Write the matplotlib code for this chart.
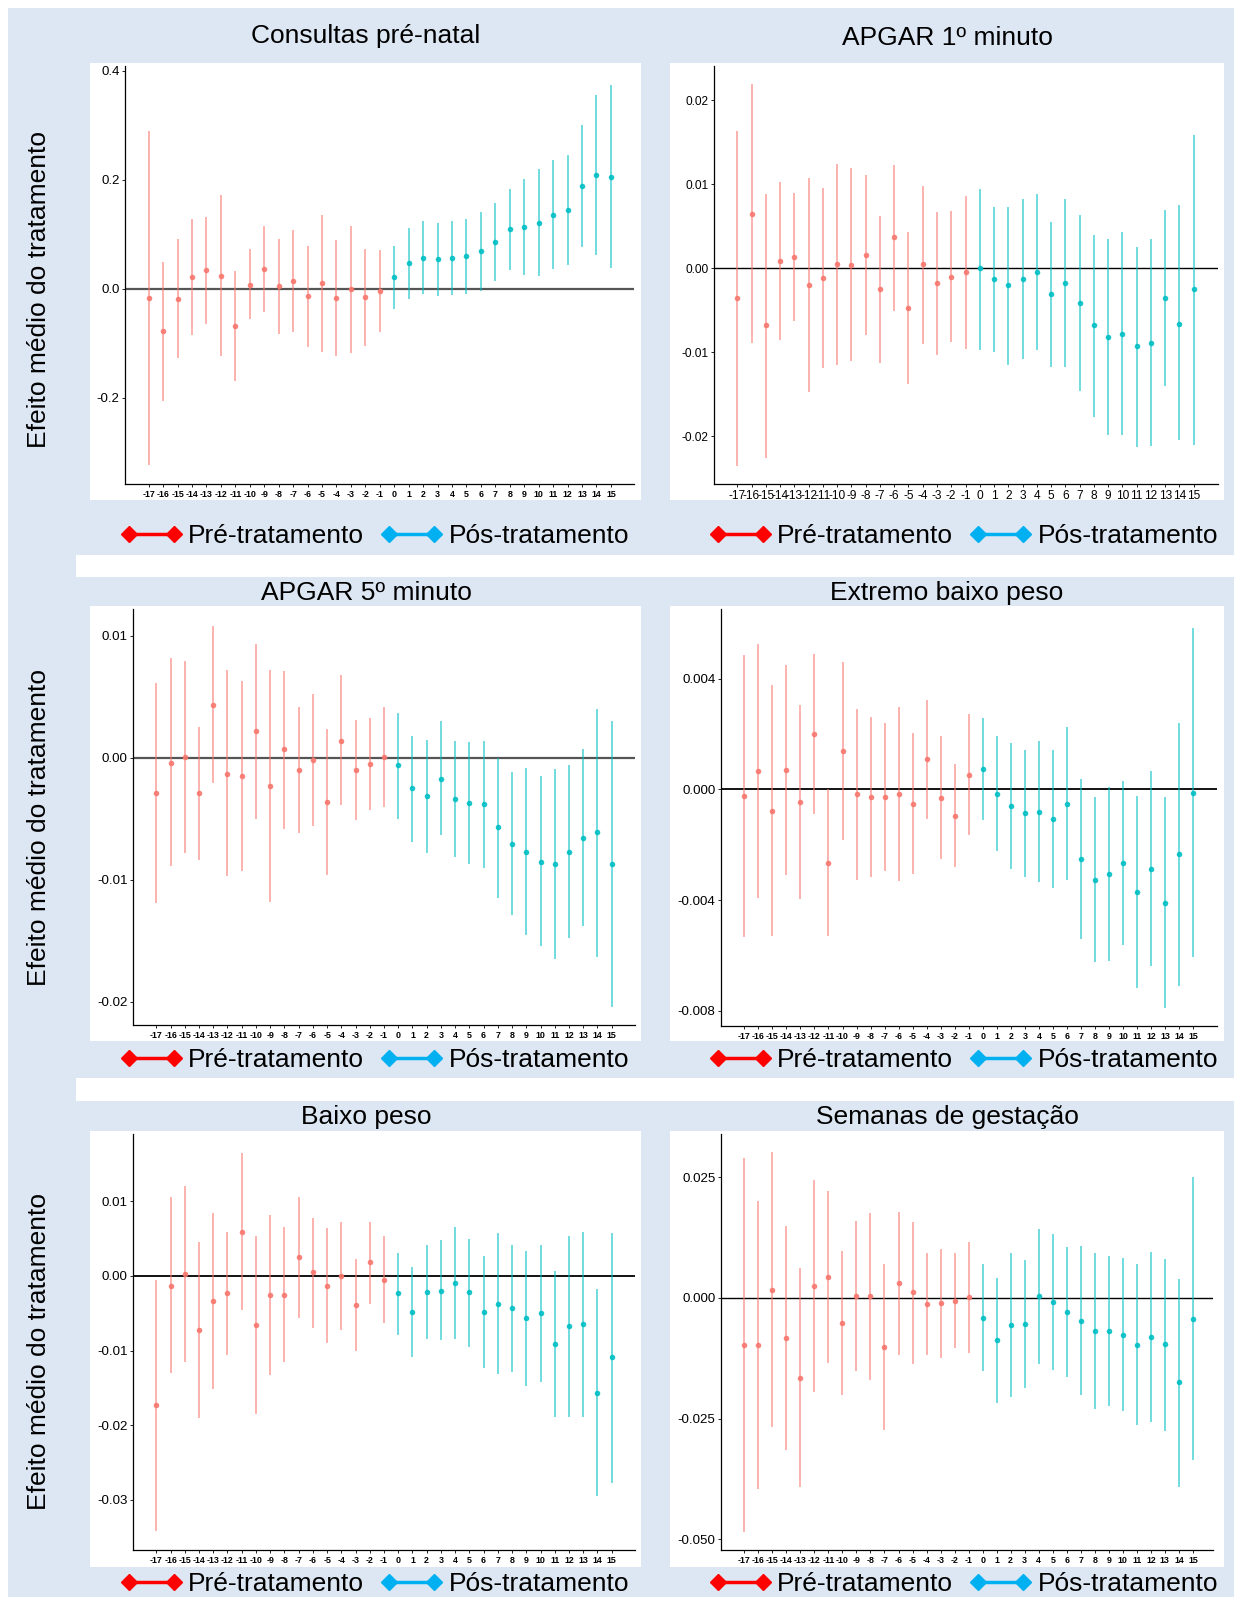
import numpy as np
import matplotlib.pyplot as plt
from matplotlib.lines import Line2D
from matplotlib.patches import Rectangle
from matplotlib.ticker import FormatStrFormatter

plt.rcParams['font.family'] = ['Liberation Sans', 'DejaVu Sans']
plt.rcParams['axes.unicode_minus'] = False

W, H = 1234, 1597
BLUE_BG = '#dde7f3'
PRE, POS = '#F8766D', '#00BFC4'

periods = list(range(-17, 16))

# Consultas pré-natal
consultas_est = [-0.017, -0.078, -0.018, 0.022, 0.034, 0.024, -0.068, 0.008, 0.036, 0.006, 0.014,
                 -0.013, 0.010, -0.017, -0.001, -0.015, -0.003, 0.021, 0.047, 0.057, 0.054, 0.056,
                 0.060, 0.070, 0.086, 0.109, 0.114, 0.121, 0.136, 0.145, 0.188, 0.209, 0.206]
consultas_hi = [0.290, 0.049, 0.091, 0.128, 0.132, 0.172, 0.033, 0.073, 0.115, 0.092, 0.108,
                0.079, 0.135, 0.090, 0.115, 0.073, 0.071, 0.078, 0.112, 0.124, 0.121, 0.124,
                0.129, 0.142, 0.158, 0.184, 0.202, 0.220, 0.236, 0.245, 0.300, 0.356, 0.374]
consultas_lo = [-0.324, -0.205, -0.127, -0.085, -0.065, -0.123, -0.169, -0.056, -0.042, -0.082, -0.080,
                -0.106, -0.116, -0.123, -0.118, -0.104, -0.080, -0.037, -0.019, -0.010, -0.013, -0.012,
                -0.010, -0.003, 0.014, 0.034, 0.026, 0.024, 0.037, 0.043, 0.076, 0.063, 0.038]

# APGAR 1º minuto
apgar1_est = [-0.0035, 0.0065, -0.0068, 0.0009, 0.0013, -0.0020, -0.0012, 0.0005, 0.0004, 0.0016, -0.0025,
              0.0037, -0.0047, 0.0005, -0.0018, -0.0010, -0.0004, -0.0000, -0.0013, -0.0020, -0.0013, -0.0004,
              -0.0031, -0.0018, -0.0041, -0.0068, -0.0082, -0.0078, -0.0093, -0.0089, -0.0035, -0.0066, -0.0025]
apgar1_hi = [0.0164, 0.0219, 0.0089, 0.0103, 0.0090, 0.0107, 0.0096, 0.0124, 0.0120, 0.0111, 0.0062,
             0.0123, 0.0043, 0.0098, 0.0067, 0.0068, 0.0086, 0.0095, 0.0073, 0.0073, 0.0082, 0.0089,
             0.0055, 0.0082, 0.0063, 0.0040, 0.0035, 0.0043, 0.0025, 0.0035, 0.0070, 0.0075, 0.0159]
apgar1_lo = [-0.0235, -0.0089, -0.0226, -0.0085, -0.0063, -0.0147, -0.0119, -0.0115, -0.0111, -0.0080, -0.0113,
             -0.0051, -0.0138, -0.0090, -0.0103, -0.0088, -0.0096, -0.0097, -0.0100, -0.0115, -0.0108, -0.0097,
             -0.0118, -0.0118, -0.0146, -0.0177, -0.0199, -0.0199, -0.0213, -0.0212, -0.0140, -0.0204, -0.0210]

# APGAR 5º minuto
apgar5_est = [-0.0029, -0.0004, 0.0001, -0.0029, 0.0043, -0.0013, -0.0015, 0.0022, -0.0023, 0.0007, -0.0010,
              -0.0002, -0.0036, 0.0014, -0.0010, -0.0005, 0.0001, -0.0006, -0.0025, -0.0031, -0.0017, -0.0034,
              -0.0037, -0.0038, -0.0057, -0.0071, -0.0077, -0.0085, -0.0087, -0.0077, -0.0066, -0.0061, -0.0087]
apgar5_hi = [0.0061, 0.0082, 0.0079, 0.0025, 0.0108, 0.0072, 0.0063, 0.0093, 0.0072, 0.0071, 0.0042,
             0.0052, 0.0024, 0.0068, 0.0031, 0.0033, 0.0042, 0.0037, 0.0018, 0.0015, 0.0030, 0.0014,
             0.0013, 0.0014, 0.0000, -0.0012, -0.0008, -0.0015, -0.0009, -0.0006, 0.0007, 0.0040, 0.0030]
apgar5_lo = [-0.0119, -0.0089, -0.0078, -0.0084, -0.0021, -0.0097, -0.0093, -0.0050, -0.0118, -0.0058, -0.0062,
             -0.0056, -0.0096, -0.0039, -0.0051, -0.0043, -0.0040, -0.0050, -0.0069, -0.0078, -0.0063, -0.0081,
             -0.0087, -0.0090, -0.0115, -0.0129, -0.0145, -0.0154, -0.0165, -0.0148, -0.0138, -0.0163, -0.0204]

# Extremo baixo peso
extremo_est = [-0.00025, 0.00066, -0.00077, 0.00071, -0.00047, 0.00199, -0.00267, 0.00139, -0.00018, -0.00029,
               -0.00029, -0.00016, -0.00052, 0.00109, -0.00031, -0.00095, 0.00053, 0.00074, -0.00016, -0.00059,
               -0.00087, -0.00081, -0.00107, -0.00051, -0.00252, -0.00327, -0.00305, -0.00265, -0.00370,
               -0.00287, -0.00409, -0.00235, -0.00012]
extremo_hi = [0.00486, 0.00525, 0.00376, 0.00451, 0.00304, 0.00490, 0.00000, 0.00462, 0.00291, 0.00262,
              0.00240, 0.00299, 0.00204, 0.00324, 0.00192, 0.00092, 0.00274, 0.00258, 0.00192, 0.00166,
              0.00142, 0.00174, 0.00142, 0.00227, 0.00036, -0.00029, 0.00008, 0.00030, -0.00023,
              0.00065, -0.00029, 0.00240, 0.00585]
extremo_lo = [-0.00535, -0.00392, -0.00529, -0.00309, -0.00397, -0.00090, -0.00529, -0.00183, -0.00327, -0.00318,
              -0.00294, -0.00330, -0.00305, -0.00107, -0.00252, -0.00280, -0.00166, -0.00110, -0.00223, -0.00287,
              -0.00318, -0.00333, -0.00357, -0.00328, -0.00539, -0.00625, -0.00620, -0.00562, -0.00716,
              -0.00638, -0.00790, -0.00710, -0.00605]

# Baixo peso
baixo_est = [-0.0173, -0.0013, 0.0003, -0.0072, -0.0033, -0.0023, 0.0059, -0.0066, -0.0026, -0.0025, 0.0025,
             0.0005, -0.0013, -0.0000, -0.0039, 0.0018, -0.0005, -0.0023, -0.0048, -0.0021, -0.0020, -0.0009,
             -0.0021, -0.0048, -0.0037, -0.0043, -0.0056, -0.0050, -0.0091, -0.0067, -0.0065, -0.0157, -0.0109]
baixo_hi = [-0.0005, 0.0105, 0.0121, 0.0046, 0.0084, 0.0059, 0.0164, 0.0054, 0.0081, 0.0066, 0.0106,
            0.0078, 0.0064, 0.0072, 0.0022, 0.0072, 0.0053, 0.0031, 0.0012, 0.0042, 0.0048, 0.0066,
            0.0050, 0.0027, 0.0058, 0.0042, 0.0034, 0.0042, 0.0006, 0.0054, 0.0059, -0.0017, 0.0058]
baixo_lo = [-0.0341, -0.0130, -0.0115, -0.0190, -0.0152, -0.0106, -0.0046, -0.0185, -0.0133, -0.0115, -0.0056,
            -0.0070, -0.0090, -0.0073, -0.0101, -0.0037, -0.0063, -0.0079, -0.0108, -0.0084, -0.0086, -0.0085,
            -0.0095, -0.0123, -0.0131, -0.0129, -0.0147, -0.0142, -0.0189, -0.0189, -0.0189, -0.0295, -0.0277]

# Semanas de gestação
semanas_est = [-0.0097, -0.0097, 0.0017, -0.0084, -0.0165, 0.0024, 0.0044, -0.0053, 0.0004, 0.0004, -0.0101,
               0.0030, 0.0011, -0.0012, -0.0011, -0.0006, 0.0001, -0.0041, -0.0087, -0.0057, -0.0054, 0.0003,
               -0.0009, -0.0030, -0.0048, -0.0068, -0.0068, -0.0076, -0.0097, -0.0082, -0.0096, -0.0175, -0.0044]
semanas_hi = [0.0289, 0.0200, 0.0302, 0.0148, 0.0061, 0.0243, 0.0222, 0.0096, 0.0158, 0.0175, 0.0070,
              0.0177, 0.0156, 0.0093, 0.0101, 0.0093, 0.0115, 0.0070, 0.0040, 0.0093, 0.0079, 0.0142,
              0.0131, 0.0105, 0.0107, 0.0092, 0.0086, 0.0082, 0.0069, 0.0094, 0.0081, 0.0039, 0.0251]
semanas_lo = [-0.0484, -0.0396, -0.0268, -0.0315, -0.0391, -0.0195, -0.0134, -0.0202, -0.0152, -0.0170, -0.0274,
              -0.0118, -0.0136, -0.0118, -0.0124, -0.0103, -0.0114, -0.0151, -0.0217, -0.0206, -0.0186, -0.0137,
              -0.0150, -0.0164, -0.0202, -0.0230, -0.0224, -0.0235, -0.0263, -0.0257, -0.0275, -0.0391, -0.0336]

titles = ['Consultas pré-natal', 'APGAR 1º minuto', 'APGAR 5º minuto',
          'Extremo baixo peso', 'Baixo peso', 'Semanas de gestação']
ylabel = 'Efeito médio do tratamento'
legend_labels = ['Pré-tratamento', 'Pós-tratamento']


def fbox(l, t, r, b):
    # pixel box (from top-left) -> figure fraction rect
    return [l / W, 1 - b / H, (r - l) / W, (b - t) / H]


fig = plt.figure(figsize=(W / 100, H / 100), dpi=100)
fig.patch.set_facecolor('white')

# blue background blocks
fig.add_artist(Rectangle((8 / W, 0), 1, 1 - 8 / H, transform=fig.transFigure,
                         facecolor=BLUE_BG, edgecolor='none', zorder=-10))
for y0, y1 in [(555, 577), (1078, 1101)]:
    fig.add_artist(Rectangle((76 / W, 1 - y1 / H), 1, (y1 - y0) / H, transform=fig.transFigure,
                             facecolor='white', edgecolor='none', zorder=-9))

# white plot backgrounds
rows_px = [(63, 500), (606, 1041), (1131, 1567)]
cols_px = [(90, 641), (670, 1224)]
for (t, b) in rows_px:
    for (l, r) in cols_px:
        x, y, w, h = fbox(l, t, r, b)
        fig.add_artist(Rectangle((x, y), w, h, transform=fig.transFigure,
                                 facecolor='white', edgecolor='none', zorder=-8))

panels = [
    dict(est=consultas_est, lo=consultas_lo, hi=consultas_hi, box=(125, 66, 634, 484),
         ylim=(-0.358, 0.409), yticks=[-0.2, 0.0, 0.2, 0.4], fmt='%.1f', ysize=9.5,
         xlim=(-18.64, 16.6), xbold=True, zc='#555555', zw=1.6),
    dict(est=apgar1_est, lo=apgar1_lo, hi=apgar1_hi, box=(714, 66, 1218, 484),
         ylim=(-0.0257, 0.0241), yticks=[-0.02, -0.01, 0.0, 0.01, 0.02], fmt='%.2f', ysize=8.6,
         xlim=(-18.63, 16.7), xbold=False, zc='black', zw=1.0),
    dict(est=apgar5_est, lo=apgar5_lo, hi=apgar5_hi, box=(133, 609, 635, 1025),
         ylim=(-0.0219, 0.0122), yticks=[-0.02, -0.01, 0.0, 0.01], fmt='%.2f', ysize=9.6,
         xlim=(-18.64, 16.64), xbold=True, zc='#555555', zw=1.6),
    dict(est=extremo_est, lo=extremo_lo, hi=extremo_hi, box=(721, 609, 1217, 1026),
         ylim=(-0.00855, 0.00652), yticks=[-0.008, -0.004, 0.0, 0.004], fmt='%.3f', ysize=9.6,
         xlim=(-18.66, 16.69), xbold=True, zc='black', zw=1.3),
    dict(est=baixo_est, lo=baixo_lo, hi=baixo_hi, box=(133, 1134, 635, 1550),
         ylim=(-0.0367, 0.019), yticks=[-0.03, -0.02, -0.01, 0.0, 0.01], fmt='%.2f', ysize=9.6,
         xlim=(-18.64, 16.64), xbold=True, zc='black', zw=1.3),
    dict(est=semanas_est, lo=semanas_lo, hi=semanas_hi, box=(721, 1134, 1213, 1550),
         ylim=(-0.0522, 0.0339), yticks=[-0.05, -0.025, 0.0, 0.025], fmt='%.3f', ysize=9.6,
         xlim=(-18.66, 16.43), xbold=True, zc='black', zw=1.0),
]

x = np.array(periods)
pre = x < 0
for i, p in enumerate(panels):
    ax = fig.add_axes(fbox(*p['box']))
    ax.set_facecolor('none')
    est, lo, hi = np.array(p['est']), np.array(p['lo']), np.array(p['hi'])
    ax.axhline(0, color=p['zc'], lw=p['zw'], zorder=1)
    for mask, c in [(pre, PRE), (~pre, POS)]:
        ax.vlines(x[mask], lo[mask], hi[mask], color=c, lw=1.3, alpha=0.6, zorder=2)
        ax.plot(x[mask], est[mask], 'o', color=c, ms=4.0, alpha=0.9, mew=0, zorder=3)
    ax.set_xlim(*p['xlim'])
    ax.set_ylim(*p['ylim'])
    ax.set_yticks(p['yticks'])
    ax.yaxis.set_major_formatter(FormatStrFormatter(p['fmt']))
    ax.set_xticks(periods)
    if p['xbold']:
        ax.set_xticklabels([str(v) for v in periods], fontsize=6.4, fontweight='bold')
    else:
        ax.set_xticklabels([str(v) for v in periods], fontsize=8.6)
    ax.tick_params(axis='y', labelsize=p['ysize'], length=2.5, width=0.6, pad=1.5)
    ax.tick_params(axis='x', length=2, width=0.6, pad=2)
    for s in ['top', 'right']:
        ax.spines[s].set_visible(False)
    for s in ['left', 'bottom']:
        ax.spines[s].set_linewidth(0.9)

# titles
title_pos = [(366, 36), (947, 38), (366, 593), (947, 593), (366, 1117), (947, 1117)]
for t, (tx, ty) in zip(titles, title_pos):
    fig.text(tx / W, 1 - ty / H, t, fontsize=19, ha='center', va='center')

# y labels
for yc in [290, 827, 1351]:
    fig.text(39 / W, 1 - yc / H, ylabel, fontsize=19, rotation=90, ha='center', va='center')

# legends
handles = [Line2D([0], [0], color='#FF0000', lw=2.5, marker='D', ms=8),
           Line2D([0], [0], color='#00B0F0', lw=2.5, marker='D', ms=8)]
for ly in [536, 1060, 1584]:
    for lx in [375, 964]:
        fig.legend(handles, legend_labels, loc='center', bbox_to_anchor=(lx / W, 1 - ly / H),
                   ncol=2, frameon=False, fontsize=19, numpoints=2, handlelength=2.3,
                   handletextpad=0.25, columnspacing=0.65, borderpad=0, borderaxespad=0)

fig.savefig('out.png', dpi=100)
